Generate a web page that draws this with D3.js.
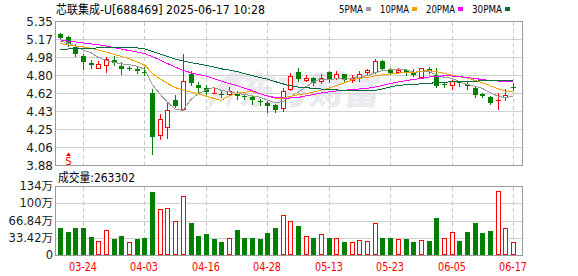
<!DOCTYPE html>
<html>
<head>
<meta charset="utf-8">
<script src="https://cdn.jsdelivr.net/npm/d3@7"></script>
<style>
body { margin: 0; background: #fff; }
svg { display: block; }
text { font-family: "DejaVu Sans", "Noto Sans CJK SC", sans-serif; }
</style>
</head>
<body>
<svg id="chart" width="578" height="276"></svg>
<script>
// daily data, 2025-03-19 .. 2025-06-17
const dates = ['03-19','03-20','03-21','03-24','03-25','03-26','03-27','03-28','03-31','04-01',
    '04-02','04-03','04-07','04-08','04-09','04-10','04-11','04-14','04-15','04-16',
    '04-17','04-18','04-21','04-22','04-23','04-24','04-25','04-28','04-29','04-30',
    '05-06','05-07','05-08','05-09','05-12','05-13','05-14','05-15','05-16','05-19',
    '05-20','05-21','05-22','05-23','05-26','05-27','05-28','05-29','05-30','06-03',
    '06-04','06-05','06-06','06-09','06-10','06-11','06-12','06-13','06-16','06-17'];

const open = [5.22,5.19,5.09,5.00,4.93,4.88,4.91,4.96,4.90,4.88,
    4.86,4.83,4.62,4.19,4.27,4.55,4.46,4.81,4.70,4.67,
    4.61,4.61,4.61,4.62,4.59,4.58,4.54,4.52,4.50,4.47,
    4.66,4.83,4.75,4.77,4.74,4.83,4.77,4.81,4.75,4.77,
    4.83,4.83,4.95,4.85,4.83,4.85,4.83,4.78,4.86,4.80,
    4.71,4.70,4.73,4.71,4.67,4.61,4.58,4.54,4.58,4.68];
const high = [5.23,5.20,5.12,5.02,4.96,4.95,4.99,5.00,4.94,4.90,
    4.89,4.89,4.66,4.41,4.53,4.60,5.02,4.84,4.73,4.70,
    4.68,4.65,4.68,4.64,4.61,4.60,4.56,4.55,4.51,4.67,
    4.82,4.88,4.80,4.78,4.81,4.84,4.84,4.81,4.80,4.84,
    4.86,4.97,4.96,4.88,4.86,4.86,4.86,4.88,4.89,4.88,
    4.72,4.75,4.74,4.73,4.68,4.62,4.59,4.62,4.66,4.72];
const low = [5.17,5.10,5.00,4.86,4.88,4.88,4.83,4.91,4.81,4.85,
    4.82,4.80,4.00,4.15,4.16,4.48,4.45,4.70,4.63,4.61,
    4.61,4.58,4.61,4.56,4.56,4.51,4.50,4.43,4.43,4.44,
    4.65,4.74,4.74,4.70,4.72,4.73,4.76,4.74,4.73,4.74,
    4.81,4.82,4.85,4.81,4.82,4.80,4.79,4.78,4.82,4.68,
    4.68,4.66,4.69,4.66,4.58,4.58,4.51,4.46,4.55,4.65];
const close = [5.18,5.12,5.02,4.94,4.91,4.92,4.97,4.93,4.86,4.87,
    4.84,4.82,4.17,4.35,4.45,4.49,4.74,4.72,4.67,4.63,
    4.62,4.60,4.64,4.59,4.58,4.55,4.53,4.49,4.45,4.64,
    4.79,4.76,4.77,4.72,4.77,4.76,4.81,4.75,4.77,4.81,
    4.85,4.95,4.86,4.82,4.85,4.83,4.80,4.88,4.84,4.69,
    4.70,4.74,4.72,4.69,4.60,4.59,4.52,4.55,4.60,4.67];
const prevClose = 5.23; // close before the first day shown

// volume, unit 万
const volume = [52.9,45,54,54,36.8,29,49.7,31,38.7,27,
    31,33,122.6,90.4,92.3,67.8,116,62.6,38.7,41.3,
    31,27,34.2,50.3,34.8,34.8,31,43.2,54,78.8,
    65.9,58,38,34.8,40.7,33,34.2,25.8,27,30.3,
    29,62,33,34.8,31,31,25.8,30.3,29,71.7,
    33,44.6,29,44.6,63.9,43.2,46.5,124,54,26.33];

// moving averages as drawn
const ma5 = [5.15,5.13,5.10,5.06,5.034,4.982,4.952,4.934,4.918,4.91,
    4.894,4.864,4.712,4.61,4.526,4.456,4.44,4.55,4.614,4.65,
    4.676,4.648,4.632,4.616,4.606,4.592,4.578,4.548,4.52,4.532,
    4.58,4.626,4.682,4.736,4.762,4.756,4.766,4.762,4.772,4.78,
    4.798,4.826,4.848,4.858,4.866,4.862,4.832,4.836,4.84,4.808,
    4.782,4.77,4.738,4.708,4.69,4.668,4.624,4.59,4.572,4.586];
const ma10 = [5.125,5.113,5.10,5.089,5.076,5.059,5.039,5.015,4.993,4.972,
    4.938,4.908,4.823,4.764,4.718,4.675,4.652,4.631,4.612,4.588,
    4.566,4.544,4.591,4.615,4.628,4.634,4.613,4.59,4.568,4.569,
    4.586,4.602,4.615,4.628,4.647,4.668,4.696,4.722,4.754,4.771,
    4.777,4.796,4.805,4.815,4.823,4.83,4.829,4.842,4.849,4.837,
    4.822,4.801,4.787,4.774,4.749,4.725,4.697,4.664,4.64,4.638];
const ma20 = [5.163,5.151,5.141,5.131,5.122,5.112,5.10,5.085,5.069,5.054,
    5.039,5.023,4.993,4.957,4.921,4.886,4.85,4.829,4.809,4.794,
    4.768,4.743,4.717,4.697,4.671,4.646,4.615,4.59,4.574,4.569,
    4.569,4.574,4.59,4.605,4.62,4.632,4.641,4.648,4.654,4.661,
    4.668,4.681,4.697,4.717,4.732,4.745,4.758,4.768,4.783,4.792,
    4.794,4.794,4.789,4.778,4.768,4.758,4.748,4.743,4.737,4.735];
const ma30 = [5.064,5.069,5.074,5.077,5.078,5.08,5.081,5.082,5.082,5.082,
    5.081,5.071,5.044,5.018,4.993,4.967,4.947,4.931,4.918,4.903,
    4.886,4.867,4.855,4.84,4.819,4.799,4.778,4.763,4.737,4.714,
    4.694,4.681,4.676,4.666,4.661,4.656,4.651,4.649,4.649,4.646,
    4.646,4.646,4.661,4.681,4.697,4.704,4.707,4.714,4.72,4.724,
    4.73,4.734,4.738,4.74,4.742,4.743,4.744,4.745,4.745,4.745];

const priceTicks = [5.35, 5.166, 4.983, 4.799, 4.616, 4.431, 4.248, 4.064, 3.88];
const volTicks = [133.68, 100.26, 66.84, 33.42, 0];
const volTickLabels = ['134万', '100万', '66.84万', '33.42万', '0'];
const dateTicks = ['03-24','04-03','04-16','04-28','05-13','05-23','06-05','06-17'];

const maNames = ['5PMA', '10PMA', '20PMA', '30PMA'];
const maColors = ['#9a9a9a', '#f0a000', '#ff00ff', '#00703a'];

const RED = '#ff0000', GREEN = '#008000';

const svg = d3.select('#chart');
const left = 56, right = 522;

const x = d3.scalePoint().domain(dates).range([60, 513]);
const y = d3.scaleLinear().domain([3.88, 5.35]).range([165.5, 21.5]);
const yv = d3.scaleLinear().domain([0, 133.68]).range([255.5, 186.5]);

// title
svg.append('text')
    .attr('x', 56).attr('y', 13.5)
    .attr('font-family', '"Noto Sans CJK SC", sans-serif')
    .attr('font-size', 12).attr('fill', '#000')
    .attr('textLength', 209).attr('lengthAdjust', 'spacingAndGlyphs')
    .text('芯联集成-U[688469] 2025-06-17 10:28');

// legend
const legendX = [339, 380, 426, 472];
const legendW = [24, 29, 29, 30];
maNames.forEach((name, i) => {
    svg.append('text')
        .attr('x', legendX[i]).attr('y', 12.5)
        .attr('font-family', '"Liberation Mono", monospace')
        .attr('font-size', 11).attr('fill', '#000')
        .attr('textLength', legendW[i]).attr('lengthAdjust', 'spacingAndGlyphs')
        .text(name);
    svg.append('rect')
        .attr('x', legendX[i] + legendW[i] + 3).attr('y', 7)
        .attr('width', 5).attr('height', 4)
        .attr('fill', maColors[i]);
});

// watermark
const wm = svg.append('g').attr('fill', '#eaeaef');
wm.append('path')
    .attr('d', 'M236,70 C222,76 212,90 208,110 C216,100 224,92 232,88 C228,96 226,104 228,110 C232,96 238,84 246,76 Z');
wm.append('text')
    .attr('x', 240).attr('y', 104)
    .attr('font-family', '"Noto Sans CJK SC", sans-serif')
    .attr('font-weight', 900).attr('font-size', 38)
    .attr('textLength', 140).attr('lengthAdjust', 'spacingAndGlyphs')
    .attr('transform', 'skewX(-8) translate(13,0)')
    .text('东方财富');

// grids
const grid = svg.append('g').attr('shape-rendering', 'crispEdges');
priceTicks.slice(1, -1).forEach(v => {
    const gy = Math.floor(y(v)) + 0.5;
    grid.append('line').attr('x1', left).attr('x2', right).attr('y1', gy).attr('y2', gy)
        .attr('stroke', '#d0d0d0');
});
volTicks.slice(1, -1).forEach(v => {
    const gy = Math.floor(yv(v)) + 0.5;
    grid.append('line').attr('x1', left).attr('x2', right).attr('y1', gy).attr('y2', gy)
        .attr('stroke', '#d0d0d0');
});
dateTicks.forEach(d => {
    const gx = Math.round(x(d)) + 0.5;
    [[22, 165], [187, 255]].forEach(([a, b]) => {
        grid.append('line').attr('x1', gx).attr('x2', gx).attr('y1', a).attr('y2', b)
            .attr('stroke', '#c8c8c8').attr('stroke-dasharray', '4,3');
    });
});

// frames
[[21.5, 144], [186.5, 69]].forEach(([top, h]) => {
    svg.append('rect')
        .attr('x', left - 0.5).attr('y', top).attr('width', right - left + 1).attr('height', h)
        .attr('fill', 'none').attr('stroke', '#9a9a9a').attr('shape-rendering', 'crispEdges');
});

// price labels
svg.append('g').selectAll('text').data(priceTicks).enter().append('text')
    .attr('x', 53).attr('y', d => Math.floor(y(d)) + 4.5)
    .attr('text-anchor', 'end').attr('font-size', 12).attr('fill', '#1a1a1a')
    .text(d => d.toFixed(2));

// volume labels
svg.append('g').selectAll('text').data(volTicks).enter().append('text')
    .attr('x', 53).attr('y', d => Math.floor(yv(d)) + 4)
    .attr('text-anchor', 'end').attr('font-size', 11.5).attr('fill', '#1a1a1a')
    .text((d, i) => volTickLabels[i]);

svg.append('text')
    .attr('x', 58).attr('y', 181.5)
    .attr('font-family', '"Noto Sans CJK SC", sans-serif')
    .attr('font-size', 12).attr('fill', '#000')
    .attr('textLength', 77).attr('lengthAdjust', 'spacingAndGlyphs')
    .text('成交量:263302');

// date labels
svg.append('g').selectAll('text').data(dateTicks).enter().append('text')
    .attr('x', d => Math.round(x(d)))
    .attr('y', 270.5)
    .attr('text-anchor', 'middle')
    .attr('font-family', '"Liberation Mono", monospace')
    .attr('font-size', 12).attr('fill', RED)
    .attr('textLength', 28).attr('lengthAdjust', 'spacingAndGlyphs')
    .text(d => d);

// candles
const candles = svg.append('g').attr('shape-rendering', 'crispEdges');
dates.forEach((d, i) => {
    const cx = Math.round(x(d));
    const up = close[i] >= open[i];
    const color = up ? RED : GREEN;
    const top = Math.round(y(Math.max(open[i], close[i])));
    const bot = Math.round(y(Math.min(open[i], close[i])));
    const hy = Math.round(y(high[i]));
    const ly = Math.round(y(low[i]));
    const g = candles.append('g');
    if (hy < top) g.append('rect').attr('x', cx).attr('y', hy).attr('width', 1).attr('height', top - hy).attr('fill', color);
    if (ly > bot) g.append('rect').attr('x', cx).attr('y', bot).attr('width', 1).attr('height', ly - bot + 1).attr('fill', color);
    if (up && bot - top >= 2) {
        g.append('rect').attr('x', cx - 1.5).attr('y', top + 0.5)
            .attr('width', 4).attr('height', bot - top)
            .attr('fill', '#fff').attr('stroke', color);
    } else {
        g.append('rect').attr('x', cx - 2).attr('y', top)
            .attr('width', 5).attr('height', Math.max(1, bot - top))
            .attr('fill', color);
    }
});

// volume bars, coloured by change from the previous close
const vols = svg.append('g').attr('shape-rendering', 'crispEdges');
dates.forEach((d, i) => {
    const cx = Math.round(x(d));
    const pc = i === 0 ? prevClose : close[i - 1];
    const up = close[i] >= pc;
    const vy = Math.round(yv(volume[i]));
    if (up) {
        vols.append('rect').attr('x', cx - 1.5).attr('y', vy + 0.5)
            .attr('width', 4).attr('height', 255 - vy - 1)
            .attr('fill', '#fff').attr('stroke', RED);
    } else {
        vols.append('rect').attr('x', cx - 2).attr('y', vy)
            .attr('width', 5).attr('height', 255 - vy)
            .attr('fill', GREEN);
    }
});

// moving averages
const line = d3.line().x((v, i) => x(dates[i])).y(v => y(v));
[ma5, ma10, ma20, ma30].forEach((ma, k) => {
    svg.append('path')
        .datum(ma)
        .attr('d', line)
        .attr('fill', 'none')
        .attr('stroke', maColors[k])
        .attr('stroke-width', 1)
        .attr('shape-rendering', 'crispEdges');
});

// buy/sell mark
const sx = Math.round(x(dates[1])) + 0.5;
svg.append('path')
    .attr('d', `M${sx},152.5 L${sx - 2.5},156 L${sx + 2.5},156 Z`)
    .attr('fill', RED);
svg.append('text')
    .attr('x', sx).attr('y', 164.5)
    .attr('text-anchor', 'middle').attr('font-size', 10).attr('fill', RED)
    .text('S');
</script>
</body>
</html>
